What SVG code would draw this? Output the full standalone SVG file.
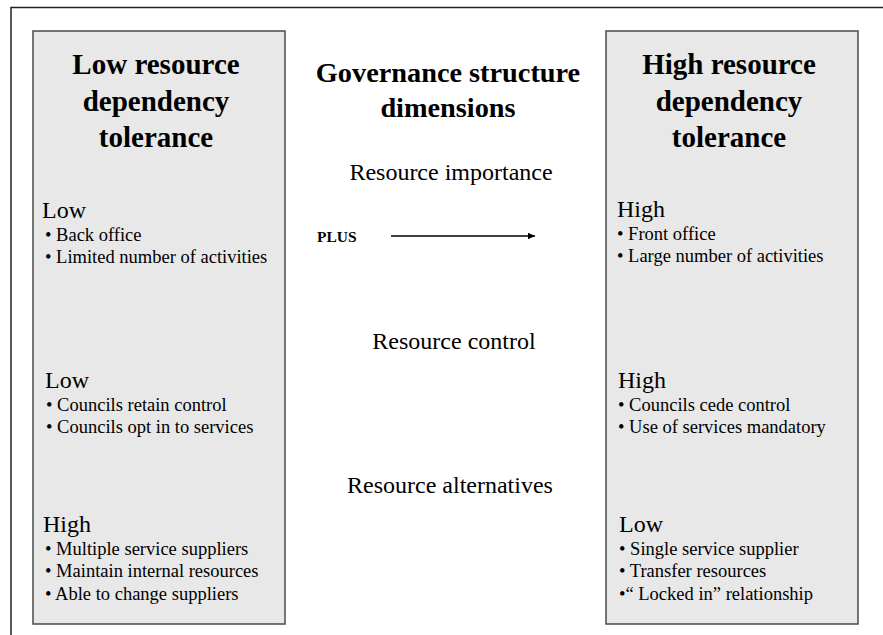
<svg xmlns="http://www.w3.org/2000/svg" width="883" height="635" viewBox="0 0 883 635">
<defs>
<style>
.box{fill:#e8e8e8;stroke:#4a4a4a;stroke-width:1.5}
.frame{fill:none;stroke:#222;stroke-width:1.5}
.t{font-family:"Liberation Serif","Times New Roman",serif;fill:#000}
.title{font-size:29px;font-weight:bold;text-anchor:middle}
.mtitle{font-size:28.3px;font-weight:bold;text-anchor:middle}
.dim{font-size:24px;text-anchor:middle}
.head{font-size:24px}
.item{font-size:18.5px}
.plus{font-size:14px;font-weight:bold}
.conn{stroke:#000;stroke-width:1.4;fill:none}
</style>
<marker id="arr" viewBox="0 0 10 10" refX="10" refY="5" markerWidth="7.5" markerHeight="7" markerUnits="userSpaceOnUse" orient="auto" preserveAspectRatio="none">
<path d="M0,0 L10,5 L0,10 z" fill="#000"/>
</marker>
</defs>
<rect width="883" height="635" fill="#fff"/>
<path class="frame" d="M11,640 V7.5 H890"/>

<g id="low-tolerance">
<rect class="box" x="33" y="31" width="252" height="593"/>
<text class="t title" x="156" y="74">Low resource</text>
<text class="t title" x="156" y="111">dependency</text>
<text class="t title" x="156" y="147">tolerance</text>
<text class="t head" x="42" y="218">Low</text>
<text class="t item" x="45" y="241">• Back office</text>
<text class="t item" x="45" y="263">• Limited number of activities</text>
<text class="t head" x="45" y="388">Low</text>
<text class="t item" x="46" y="411">• Councils retain control</text>
<text class="t item" x="46" y="433">• Councils opt in to services</text>
<text class="t head" x="43" y="532">High</text>
<text class="t item" x="45" y="555">• Multiple service suppliers</text>
<text class="t item" x="45" y="577">• Maintain internal resources</text>
<text class="t item" x="45" y="600">• Able to change suppliers</text>
</g>

<g id="dimensions">
<text class="t mtitle" x="448" y="82">Governance structure</text>
<text class="t mtitle" x="448" y="117">dimensions</text>
<text class="t dim" x="451" y="180">Resource importance</text>
<text class="t plus" x="317" y="242" textLength="39.5" lengthAdjust="spacingAndGlyphs">PLUS</text>
<text class="t dim" x="454" y="349">Resource control</text>
<text class="t dim" x="450" y="493">Resource alternatives</text>
</g>

<g id="high-tolerance">
<rect class="box" x="606" y="31" width="252" height="593"/>
<text class="t title" x="729" y="74">High resource</text>
<text class="t title" x="729" y="111">dependency</text>
<text class="t title" x="729" y="147">tolerance</text>
<text class="t head" x="617" y="217">High</text>
<text class="t item" x="617" y="240">• Front office</text>
<text class="t item" x="617" y="262">• Large number of activities</text>
<text class="t head" x="618" y="388">High</text>
<text class="t item" x="618" y="411">• Councils cede control</text>
<text class="t item" x="618" y="433">• Use of services mandatory</text>
<text class="t head" x="619" y="532">Low</text>
<text class="t item" x="619" y="555">• Single service supplier</text>
<text class="t item" x="619" y="577">• Transfer resources</text>
<text class="t item" x="619" y="600">•“ Locked in” relationship</text>
</g>

<g id="connectors">
<line class="conn" x1="391" y1="236" x2="535" y2="236" marker-end="url(#arr)"/>
</g>
</svg>
